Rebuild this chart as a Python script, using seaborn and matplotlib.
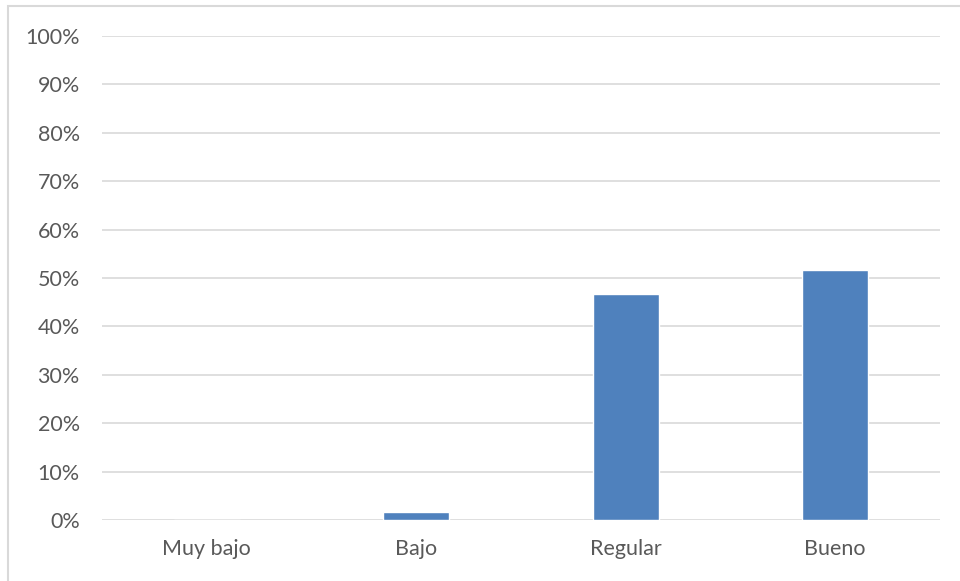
import matplotlib
matplotlib.use("Agg")
import matplotlib.pyplot as plt
import seaborn as sns
import pandas as pd
from matplotlib.patches import Rectangle
from matplotlib.ticker import PercentFormatter

# datos
categorias = ["Muy bajo", "Bajo", "Regular", "Bueno"]
porcentajes = [0.0, 1.7, 46.7, 51.7]

df = pd.DataFrame({"nivel": categorias, "pct": porcentajes})

sns.set_theme(style="white")
plt.rcParams["font.family"] = ["Lato", "DejaVu Sans"]

fig = plt.figure(figsize=(9.6, 5.81), dpi=100)
ax = fig.add_axes([102 / 960, 1 - 520 / 581, 838 / 960, 484 / 581])

sns.barplot(data=df, x="nivel", y="pct", color="#4F81BD", width=0.315,
            saturation=1, ax=ax, zorder=3)

ax.set_ylim(0, 100)
ax.set_yticks(range(0, 101, 10))
ax.yaxis.set_major_formatter(PercentFormatter(decimals=0))
ax.grid(axis="y", color="#D9D9D9", linewidth=1.2, zorder=0)
ax.set_axisbelow(True)
for s in ax.spines.values():
    s.set_visible(False)
ax.set_xlabel("")
ax.set_ylabel("")
ax.tick_params(axis="both", length=0, labelsize=15.5, colors="#595959")
ax.tick_params(axis="y", pad=16)
ax.tick_params(axis="x", pad=14)

# marco del grafico
fig.patches.append(Rectangle((8 / 960, -0.01), 1.0, 1 - 6 / 581 + 0.01,
                             transform=fig.transFigure, fill=False,
                             edgecolor="#D9D9D9", linewidth=1.5))

fig.savefig("out.png", dpi=100)
